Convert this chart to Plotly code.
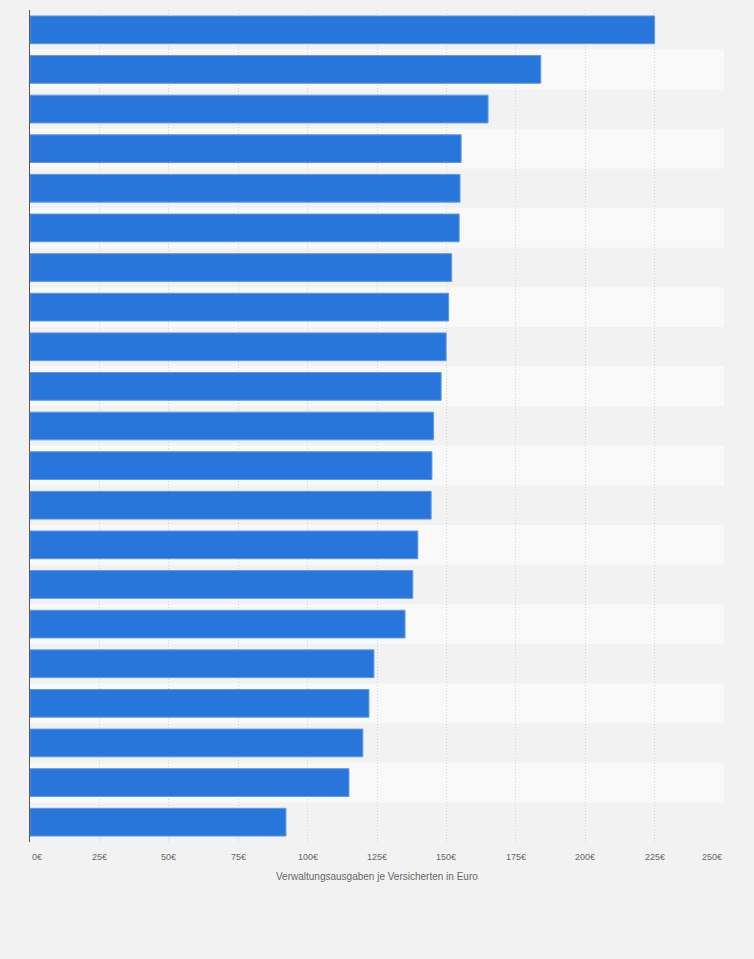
import plotly.graph_objects as go

categories = [f"Krankenkasse {i}" for i in range(1, 22)]
values = [225.0, 184.0, 165.0, 155.3, 154.9, 154.6, 151.9, 150.8, 149.9, 148.1,
          145.4, 144.8, 144.5, 139.7, 137.9, 135.1, 123.9, 122.1, 119.9, 114.9, 92.2]
tick_values = [0, 25, 50, 75, 100, 125, 150, 175, 200, 225, 250]
tick_labels = [f"{v}€" for v in tick_values]
x_title = "Verwaltungsausgaben je Versicherten in Euro"

fig = go.Figure()
fig.add_trace(go.Bar(
    x=values, y=categories, orientation="h",
    marker=dict(color="#2876dc", line=dict(color="#5d9ae6", width=1)),
    hoverinfo="x+y",
))

shapes = []
for i in range(len(categories)):
    if i % 2 == 1:
        shapes.append(dict(type="rect", xref="x domain", yref="y",
                           x0=0, x1=1, y0=i - 0.5, y1=i + 0.5,
                           fillcolor="#f9f9f9", line=dict(width=0), layer="below"))

annotations = []
for v, t in zip(tick_values, tick_labels):
    anchor = "center"
    if v == tick_values[0]:
        anchor = "left"
    elif v == tick_values[-1]:
        anchor = "right"
    annotations.append(dict(x=v, xref="x", y=0, yref="paper", yshift=-15,
                            text=t, showarrow=False, xanchor=anchor, yanchor="middle",
                            font=dict(family="Liberation Sans, Arial", size=9, color="#666666")))
annotations.append(dict(x=0.5, xref="x domain", y=0, yref="paper", yshift=-34,
                        text=x_title, showarrow=False, xanchor="center", yanchor="middle",
                        font=dict(family="Liberation Sans, Arial", size=10, color="#666666")))

fig.update_layout(
    width=754, height=959,
    margin=dict(l=30, r=29.5, t=10, b=117),
    paper_bgcolor="#f2f2f2", plot_bgcolor="#f2f2f2",
    bargap=0.3, showlegend=False,
    shapes=shapes, annotations=annotations,
    xaxis=dict(range=[0, 250], tickvals=tick_values, showticklabels=False,
               showgrid=True, gridcolor="#d4d4d4", griddash="1px,2px", gridwidth=1,
               zeroline=False, showline=False, fixedrange=True),
    yaxis=dict(autorange="reversed", showticklabels=False, showgrid=False,
               showline=True, linecolor="#555555", linewidth=1, ticks="",
               zeroline=False, fixedrange=True),
)

fig.write_html("out.html",
               config={"displayModeBar": False},
               post_script="document.body.style.margin='0';document.body.style.overflow='hidden';document.body.style.background='#f2f2f2';")
